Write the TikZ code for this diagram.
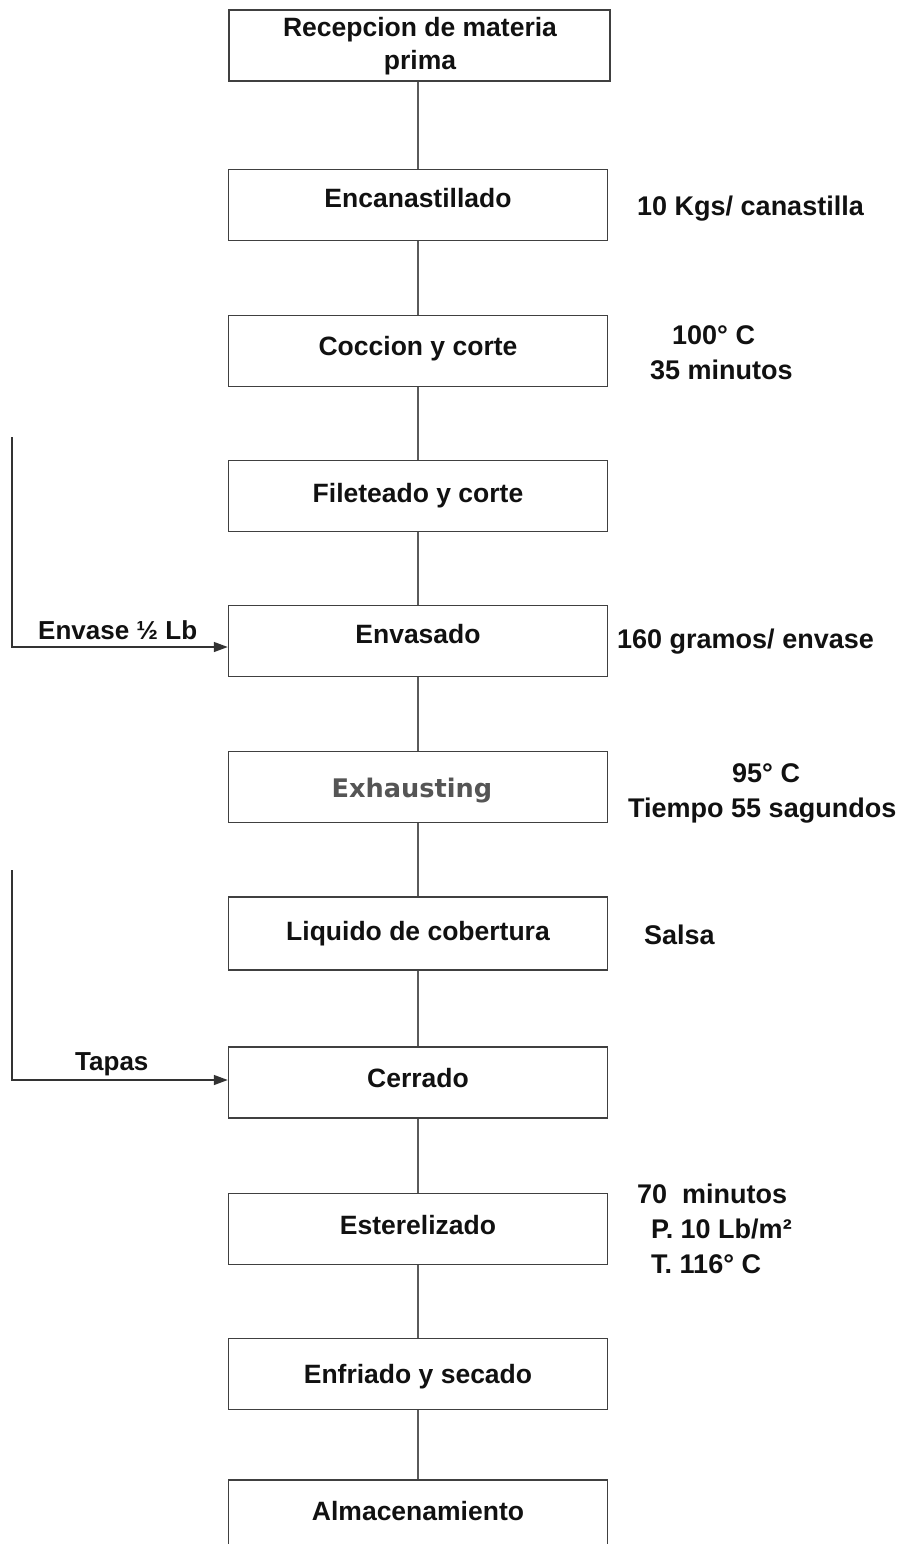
\documentclass[tikz,border=0pt]{standalone}
\usepackage{fontspec}
\setmainfont{Liberation Sans}
\newfontfamily\exfont{DejaVu Sans}
\usetikzlibrary{arrows.meta,calc}
\definecolor{boxline}{HTML}{404040}
\definecolor{conn}{HTML}{5A5A5A}
\definecolor{extext}{HTML}{555555}
\definecolor{txt}{HTML}{111111}
\tikzset{
  stepbox/.style={draw=boxline, line width=1.5pt, minimum width=379pt, minimum height=71pt, inner sep=0pt},
  boxtxt/.style={anchor=base, inner sep=0pt, text=txt, font=\fontsize{26.5}{32}\selectfont\bfseries},
  sidetxt/.style={anchor=base west, inner sep=0pt, text=txt, font=\fontsize{27}{35}\selectfont\bfseries},
  link/.style={draw=conn, line width=1.6pt},
  feed/.style={draw=black!80, line width=1.5pt, -{Triangle[length=14pt,width=10pt]}}
}
\begin{document}
\begin{tikzpicture}[x=1pt,y=-1pt]
\useasboundingbox (0,0) rectangle (904,1544);
\clip (0,0) rectangle (904,1544);
% boxes
\node[stepbox, minimum width=381pt] (b1) at (419.5,45.5) {};
\node[stepbox] (b2) at (418,205) {};
\node[stepbox] (b3) at (418,351) {};
\node[stepbox] (b4) at (418,496) {};
\node[stepbox] (b5) at (418,641) {};
\node[stepbox] (b6) at (418,787) {};
\node[stepbox, minimum height=73pt] (b7) at (418,933.5) {};
\node[stepbox] (b8) at (418,1082.5) {};
\node[stepbox] (b9) at (418,1229) {};
\node[stepbox] (b10) at (418,1374) {};
\node[stepbox, minimum height=90pt] (b11) at (418,1525) {};
% box texts
\node[boxtxt, anchor=center, align=center, font=\fontsize{26.5}{33}\selectfont\bfseries] (t1) at (420,46) {Recepcion de materia\\prima};
\node[boxtxt] (t2) at (418,207.5) {Encanastillado};
\node[boxtxt] (t3) at (418,355.5) {Coccion y corte};
\node[boxtxt] (t4) at (418,502) {Fileteado y corte};
\node[boxtxt] (t5) at (418,643.5) {Envasado};
\node[anchor=base, inner sep=0pt, text=extext, font=\exfont\fontsize{25.6}{30}\selectfont\bfseries] (t6) at (412,797.5) {Exhausting};
\node[boxtxt] (t7) at (418,940) {Liquido de cobertura};
\node[boxtxt] (t8) at (418,1087) {Cerrado};
\node[boxtxt] (t9) at (418,1234) {Esterelizado};
\node[boxtxt] (t10) at (418,1383) {Enfriado y secado};
\node[boxtxt] (t11) at (418,1520) {Almacenamiento};
% side notes
\node[sidetxt] (n1) at (637,215) {10 Kgs/ canastilla};
\node[sidetxt] (n2) at (672,344) {100° C};
\node[sidetxt] (n3) at (650,379) {35 minutos};
\node[sidetxt] (n4) at (617,648) {160 gramos/ envase};
\node[sidetxt] (n5) at (732,782) {95° C};
\node[sidetxt] (n6) at (628,817) {Tiempo 55 sagundos};
\node[sidetxt] (n7) at (644,944) {Salsa};
\node[sidetxt] (n8) at (637,1203) {70\ \ minutos};
\node[sidetxt] (n9) at (651,1238) {P. 10 Lb/m²};
\node[sidetxt] (n10) at (651,1273) {T. 116° C};
% main flow
\draw[link] (b2.north |- b1.south) -- (b2.north);
\draw[link] (b2) -- (b3);
\draw[link] (b3) -- (b4);
\draw[link] (b4) -- (b5);
\draw[link] (b5) -- (b6);
\draw[link] (b6) -- (b7);
\draw[link] (b7) -- (b8);
\draw[link] (b8) -- (b9);
\draw[link] (b9) -- (b10);
\draw[link] (b10) -- (b11);
% inputs
\coordinate (s1) at (12,437);
\coordinate (s2) at (12,870);
\draw[feed] (s1) |- ($(b5.west)+(0,6)$);
\draw[feed] (s2) |- ($(b8.west)+(0,-2.5)$);
\node[sidetxt, font=\fontsize{26}{30}\selectfont\bfseries] (l1) at (38,639) {Envase ½ Lb};
\node[sidetxt, font=\fontsize{26}{30}\selectfont\bfseries] (l2) at (75,1070) {Tapas};
\end{tikzpicture}
\end{document}
